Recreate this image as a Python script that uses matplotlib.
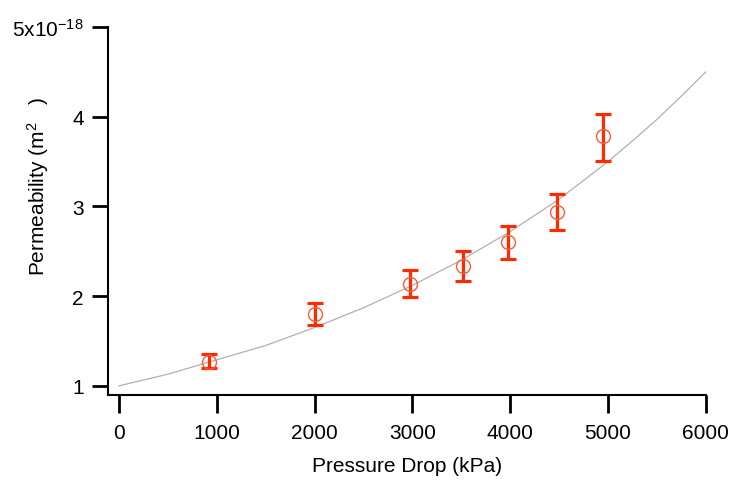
import matplotlib
matplotlib.use('Agg')
import matplotlib.pyplot as plt

plt.rcParams['font.family'] = ['Liberation Sans', 'DejaVu Sans']
plt.rcParams['mathtext.fontset'] = 'custom'
plt.rcParams['mathtext.rm'] = 'Liberation Sans'
plt.rcParams['mathtext.it'] = 'Liberation Sans'

# measured points (pressure drop in kPa, permeability in 1e-18 m^2)
pressure = [920, 2000, 2980, 3515, 3980, 4475, 4950]
perm = [1.27, 1.80, 2.14, 2.34, 2.60, 2.94, 3.78]
err_low = [1.20, 1.68, 1.99, 2.17, 2.41, 2.74, 3.51]
err_high = [1.35, 1.92, 2.29, 2.50, 2.78, 3.14, 4.03]

# fitted curve
fit_x = [0, 500, 1000, 1500, 2000, 2500, 3000, 3500, 4000, 4500, 5000, 5250, 5500, 5750, 6000]
fit_y = [1.00, 1.13, 1.29, 1.45, 1.65, 1.87, 2.12, 2.40, 2.72, 3.08, 3.50, 3.73, 3.97, 4.23, 4.50]

yticks = [1, 2, 3, 4, 5]
ytick_labels = ['1', '2', '3', '4', '5x10$^{-18}$']
xticks = [0, 1000, 2000, 3000, 4000, 5000, 6000]

fs = 15

fig = plt.figure(figsize=(7.3, 4.81), dpi=100)
ax = fig.add_axes([0.148, 0.177, 0.819, 0.765])

ax.plot(fit_x, fit_y, color='#b0b0b0', lw=0.9, zorder=1)

yerr = [[p - l for p, l in zip(perm, err_low)], [h - p for p, h in zip(perm, err_high)]]
ax.errorbar(pressure, perm, yerr=yerr, fmt='none', ecolor='#ff2a00',
            elinewidth=2.3, capsize=5.5, capthick=2.3, zorder=2)
ax.plot(pressure, perm, 'o', mfc='none', mec='#ff5a3c', mew=1.0, ms=10, zorder=3)

ax.set_xlim(-110, 6000)
ax.set_ylim(0.9, 5)
ax.set_xticks(xticks)
ax.set_yticks(yticks)
ax.set_yticklabels(ytick_labels)

for s in ['top', 'right']:
    ax.spines[s].set_visible(False)
for s in ['left', 'bottom']:
    ax.spines[s].set_linewidth(1.5)

ax.tick_params(axis='x', direction='out', length=13, width=2, labelsize=fs, pad=7)
ax.tick_params(axis='y', direction='out', length=11.5, width=2, labelsize=fs, pad=6)

ax.set_xlabel('Pressure Drop (kPa)', fontsize=fs, labelpad=10)
fig.text(38 / 730, 1 - 187 / 481, 'Permeability (m$^{2}$   )', fontsize=fs,
         rotation=90, ha='center', va='center')

fig.savefig('out.png', dpi=100)
